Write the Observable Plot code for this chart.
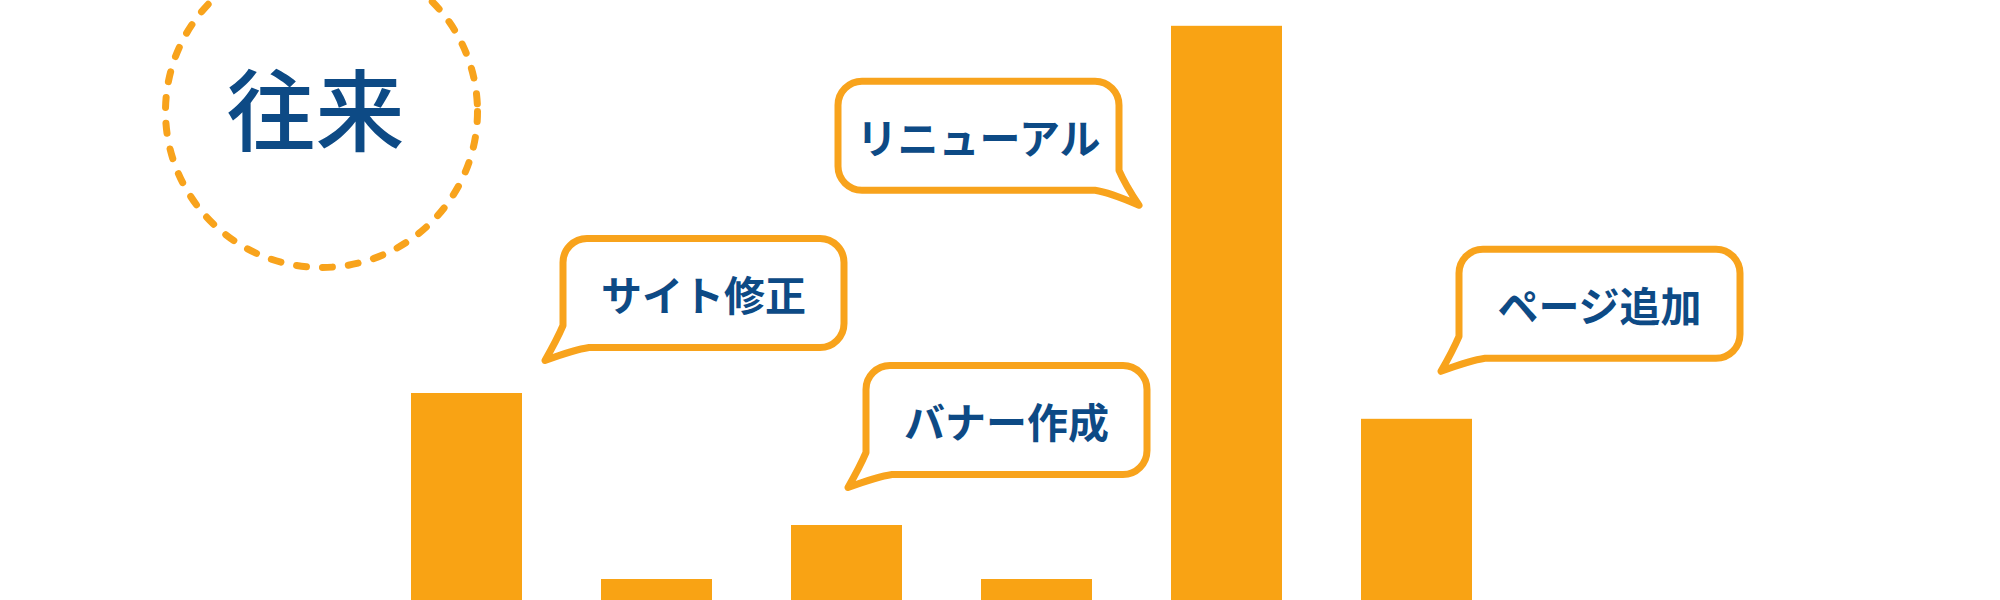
<!DOCTYPE html>
<html>
<head>
<meta charset="utf-8">
<script src="https://cdn.jsdelivr.net/npm/d3@7"></script>
<script src="https://cdn.jsdelivr.net/npm/@observablehq/plot@0.6"></script>
<style>
  html, body { margin: 0; padding: 0; background: #ffffff; }
  #chart svg { display: block; }
</style>
</head>
<body>
<div id="chart"></div>
<script>
// ---- data ----
const categories = ["1月", "2月", "3月", "4月", "5月", "6月"];
const values = [34.5, 3.5, 12.5, 3.5, 95.7, 30.2];
const bubbleLabels = ["サイト修正", "バナー作成", "リニューアル", "ページ追加"];
const bubbleTargets = ["1月", "3月", "5月", "6月"];
const titleText = "往来";

// ---- styles / layout ----
const ORANGE = "#F9A314";
const BUBBLE = "#F8A31C";
const BLUE = "#0D4A85";
const FONT = "'Noto Sans CJK JP', 'Noto Sans', sans-serif";

const bars = categories.map((c, i) => ({category: c, value: values[i]}));
const valueOf = new Map(bars.map(d => [d.category, d.value]));
const bubbles = bubbleLabels.map((label, i) => ({label, target: bubbleTargets[i]}));

// offsets of each bubble box centre from the top-centre of the bar it points at (pixels)
const bubbleLayout = [
  {dx: 237, dy: -100, side: "left"},
  {dx: 160, dy: -105, side: "left"},
  {dx: -248, dy: 110, side: "right"},
  {dx: 183, dy: -115, side: "left"}
];
const BOX_W = 281, BOX_H = 109, R = 24, SW = 7;

function bubbleMark(index, scales, values, dimensions, context) {
  const x = scales.x, y = scales.y;
  const g = d3.create("svg:g");
  bubbles.forEach((b, i) => {
    const lay = bubbleLayout[i];
    const ax = x(b.target) + x.bandwidth() / 2;
    const ay = y(valueOf.get(b.target));
    const cx = ax + lay.dx, cy = ay + lay.dy;
    const l = cx - BOX_W / 2, r = cx + BOX_W / 2, t = cy - BOX_H / 2, bt = cy + BOX_H / 2;
    let p;
    if (lay.side === "left") {
      const tx = l - 18, ty = bt + 13;
      p = `M${l + R},${t} H${r - R} A${R},${R} 0 0 1 ${r},${t + R} V${bt - R} A${R},${R} 0 0 1 ${r - R},${bt} H${l + 26} Q${l + 12},${bt + 2} ${tx},${ty} Q${l - 6},${bt - 8} ${l},${bt - 22} V${t + R} A${R},${R} 0 0 1 ${l + R},${t} Z`;
    } else {
      const tx = r + 20, ty = bt + 15;
      p = `M${l + R},${t} H${r - R} A${R},${R} 0 0 1 ${r},${t + R} V${bt - 20} Q${r + 6},${bt - 6} ${tx},${ty} Q${r - 10},${bt + 2} ${r - 24},${bt} H${l + R} A${R},${R} 0 0 1 ${l},${bt - R} V${t + R} A${R},${R} 0 0 1 ${l + R},${t} Z`;
    }
    g.append("path")
      .attr("d", p)
      .attr("fill", "#ffffff")
      .attr("stroke", BUBBLE)
      .attr("stroke-width", SW)
      .attr("stroke-linejoin", "round");
    g.append("text")
      .attr("x", cx)
      .attr("y", cy)
      .attr("text-anchor", "middle")
      .attr("dominant-baseline", "central")
      .attr("font-family", FONT)
      .attr("font-size", 41)
      .attr("font-weight", 700)
      .attr("fill", BLUE)
      .text(b.label);
  });
  return g.node();
}

const chart = Plot.plot({
  width: 2000,
  height: 600,
  marginLeft: 331,
  marginRight: 448,
  marginTop: 0,
  marginBottom: 0,
  style: {background: "#ffffff", fontFamily: FONT},
  x: {domain: categories, padding: 0.417, axis: null},
  y: {domain: [0, 100], axis: null},
  marks: [
    Plot.barY(bars, {x: "category", y: "value", fill: ORANGE}),
    Plot.dot([titleText], {
      frameAnchor: "top-left", dx: -10, dy: 111, r: 156,
      fill: "none", stroke: BUBBLE, strokeWidth: 7,
      strokeDasharray: "10,16", strokeLinecap: "round"
    }),
    Plot.text([titleText], {
      text: d => d, frameAnchor: "top-left", textAnchor: "middle", lineAnchor: "middle",
      dx: -16, dy: 115,
      fontSize: 89, fontWeight: 500, fill: BLUE, fontFamily: FONT
    }),
    bubbleMark
  ]
});

document.getElementById("chart").appendChild(chart);
</script>
</body>
</html>
